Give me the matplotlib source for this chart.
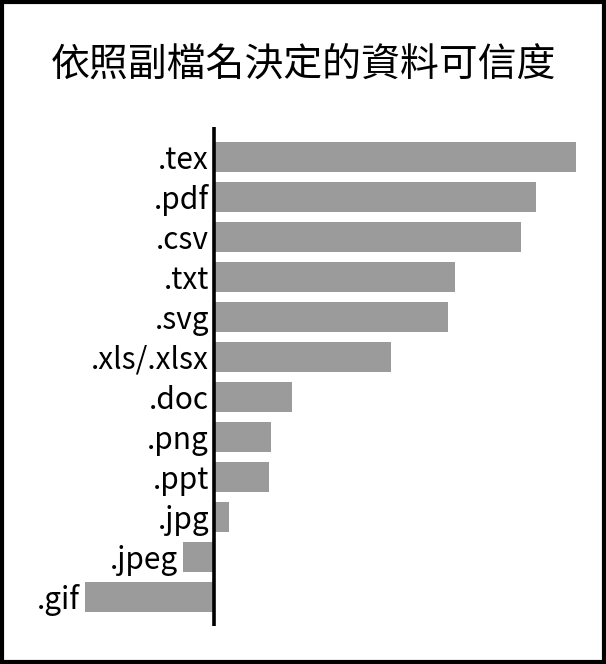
import matplotlib
matplotlib.use("Agg")
import matplotlib.pyplot as plt
from matplotlib.patches import Rectangle

# data (arbitrary "trust" units)
extensions = [".tex", ".pdf", ".csv", ".txt", ".svg", ".xls/.xlsx", ".doc",
              ".png", ".ppt", ".jpg", ".jpeg", ".gif"]
trust = [362, 322, 307, 241, 234, 177, 78, 57, 55, 15, -31, -129]
title = "依照副檔名決定的資料可信度"

plt.rcParams['font.family'] = ['Noto Sans CJK TC', 'DejaVu Sans']

fig = plt.figure(figsize=(6.06, 6.64), dpi=100)
W, H = 606, 664

# axes placed so one unit is about one pixel horizontally
ax = fig.add_axes([74 / W, (H - 626) / H, 520 / W, 499 / H])
ypos = list(range(len(extensions)))
ax.barh(ypos, trust, height=0.75, color="#9b9b9b", zorder=2)
ax.set_xlim(-140, 380)
ax.set_ylim(11.72, -0.75)
ax.axvline(0, color="black", lw=2.6, zorder=3)

for y, name, v in zip(ypos, extensions, trust):
    ax.text(min(v, 0) - 5, y + 0.08, name, ha="right", va="center",
            fontsize=21.5, color="black")

ax.set_xticks([])
ax.set_yticks([])
for s in ax.spines.values():
    s.set_visible(False)

fig.text(0.5, (H - 65) / H, title, ha="center", va="center", fontsize=28)

# comic panel border
fig.patches.append(Rectangle((2 / W, 2 / H), (W - 4) / W, (H - 4) / H,
                             transform=fig.transFigure, fill=False,
                             lw=3, edgecolor="black"))

fig.savefig("out.png", dpi=100)
